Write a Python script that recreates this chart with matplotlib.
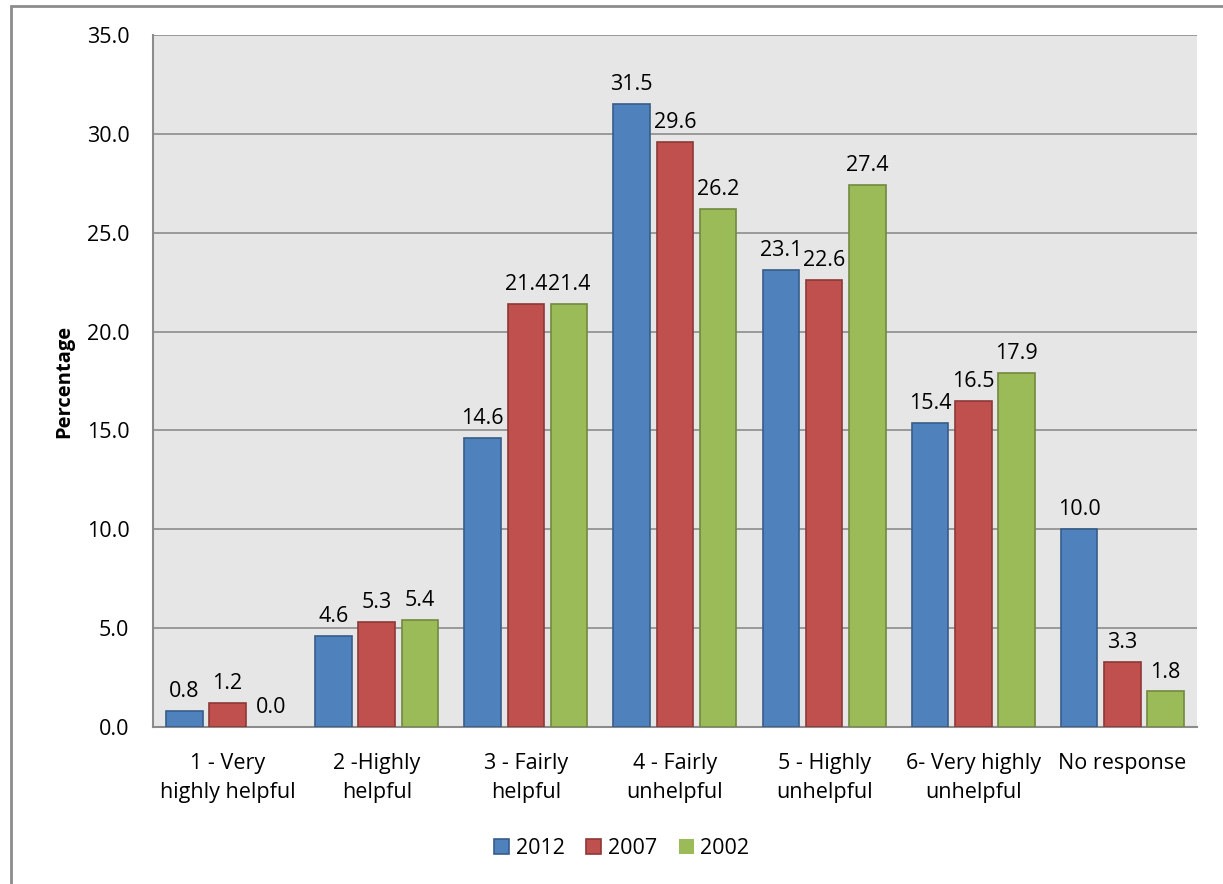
import numpy as np
import matplotlib.pyplot as plt
from matplotlib.patches import Rectangle

categories = ["1 - Very\nhighly helpful", "2 -Highly\nhelpful", "3 - Fairly\nhelpful",
              "4 - Fairly\nunhelpful", "5 - Highly\nunhelpful", "6- Very highly\nunhelpful",
              "No response"]
years = ["2012", "2007", "2002"]
v2012 = [0.8, 4.6, 14.6, 31.5, 23.1, 15.4, 10.0]
v2007 = [1.2, 5.3, 21.4, 29.6, 22.6, 16.5, 3.3]
v2002 = [0.0, 5.4, 21.4, 26.2, 27.4, 17.9, 1.8]

fills = ["#4F81BD", "#C0504D", "#9BBB59"]
edges = ["#385D8A", "#8C3836", "#71893F"]

plt.rcParams['font.family'] = ['Open Sans', 'DejaVu Sans']
fs = 15.5

fig = plt.figure(figsize=(12.23, 8.84), dpi=100)
ax = fig.add_axes([0.1251, 0.1776, 0.8536, 0.7828])

# outer chart border (right/bottom run off the image)
fig.patches.append(Rectangle((0.009, -0.05), 1.2, 1.043, transform=fig.transFigure,
                             fill=False, edgecolor="#8C8C8C", linewidth=2))

x = np.arange(len(categories))
w = 0.245
offs = [-0.29, 0.0, 0.29]
for vals, off, fc, ec, lab in zip([v2012, v2007, v2002], offs, fills, edges, years):
    bars = ax.bar(x + off, vals, w, color=fc, edgecolor=ec, linewidth=1.2, label=lab, zorder=3)
    for b, v in zip(bars, vals):
        if v == 0:
            b.set_linewidth(0)
        ax.text(b.get_x() + b.get_width() / 2, v + 0.45, f"{v:.1f}",
                ha="center", va="bottom", fontsize=fs, zorder=4)

ax.set_xlim(-0.5, len(categories) - 0.5)
ax.set_ylim(0, 35)
ax.set_yticks(np.arange(0, 35.1, 5))
ax.set_yticklabels([f"{t:.1f}" for t in np.arange(0, 35.1, 5)], fontsize=fs)
ax.set_xticks(x)
ax.set_xticklabels(categories, fontsize=fs, linespacing=1.45)
ax.tick_params(axis="both", length=0)
ax.tick_params(axis="x", pad=19)
ax.tick_params(axis="y", pad=17)
ax.set_facecolor("#E6E6E6")
ax.grid(axis="y", color="#8C8C8C", linewidth=1.2, zorder=0)
ax.set_axisbelow(True)
for s in ["top", "right"]:
    ax.spines[s].set_visible(False)
for s in ["left", "bottom"]:
    ax.spines[s].set_color("#8C8C8C")
    ax.spines[s].set_linewidth(1.5)

ax.set_ylabel("Percentage", fontsize=fs - 1, fontweight="bold", labelpad=9)

ax.legend(loc="center", bbox_to_anchor=(0.449, -0.175), ncol=3, frameon=False,
          fontsize=fs, handlelength=0.7, handleheight=0.7, handletextpad=0.3,
          columnspacing=1.0)

fig.savefig("out.png", dpi=100)
